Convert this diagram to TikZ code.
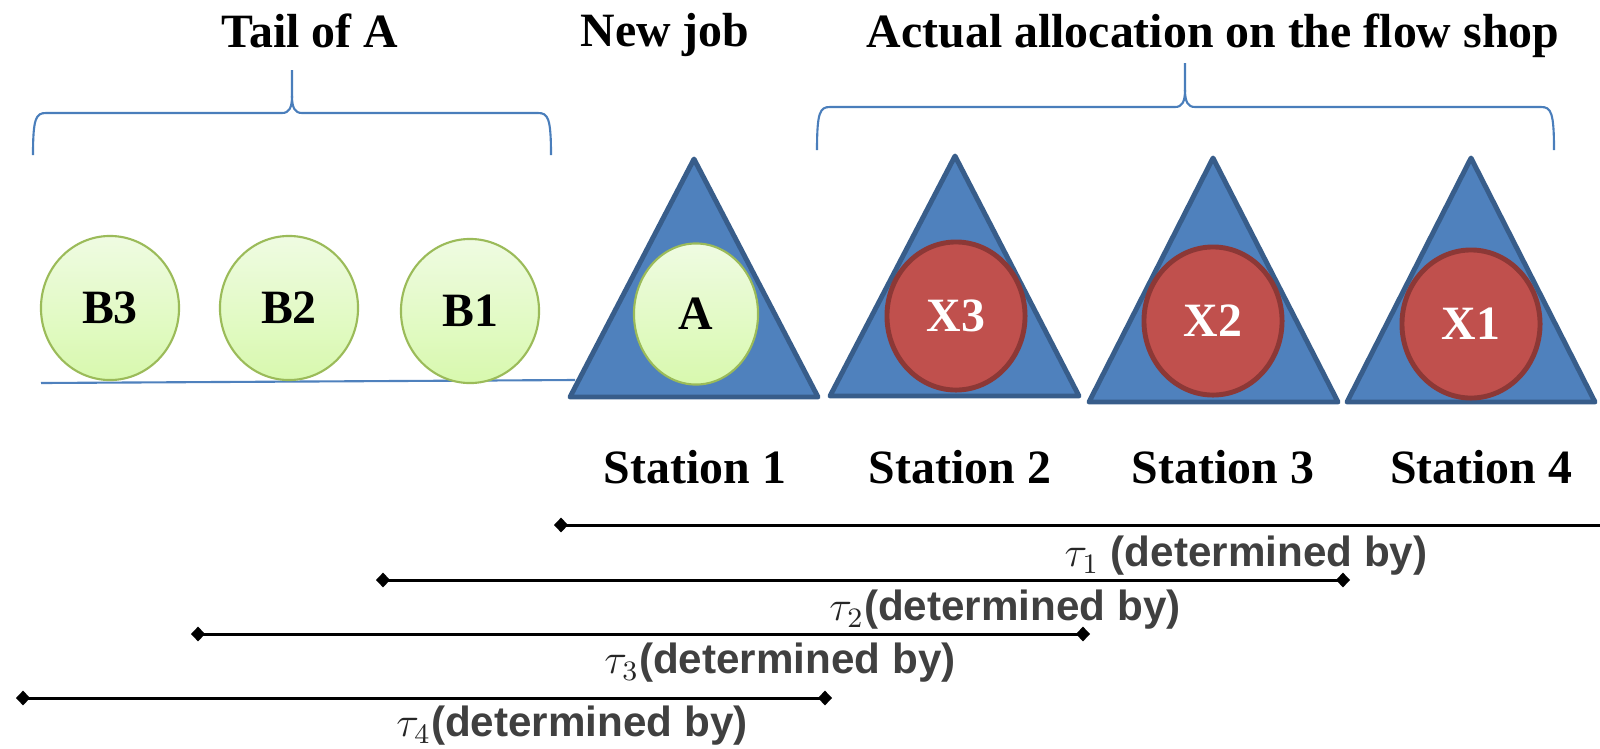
\documentclass[tikz,border=0pt]{standalone}
\usepackage{fontspec}
\setmainfont{Liberation Serif}
\newfontfamily\tausans{Liberation Sans}
\usepackage{xcolor}
\usepackage{tikz}
\usetikzlibrary{shapes.geometric,arrows.meta}

\definecolor{stationfill}{HTML}{4F81BD}
\definecolor{stationline}{HTML}{385D8A}
\definecolor{busyfill}{HTML}{C0504D}
\definecolor{busyline}{HTML}{8C3836}
\definecolor{jobline}{HTML}{9BBB59}
\definecolor{jobtop}{HTML}{EFFBE2}
\definecolor{jobbottom}{HTML}{D8F9AE}
\definecolor{bracecol}{HTML}{4A7EBB}
\definecolor{taugrey}{HTML}{404040}

\newcommand{\tausym}[1]{\textcolor{black!85}{$\tau_{#1}$}}

\tikzset{
  heading/.style={anchor=base, font=\fontsize{13.6}{16}\selectfont\bfseries},
  jobcircle/.style={ellipse, draw=jobline, line width=0.6pt, top color=jobtop, bottom color=jobbottom,
    inner sep=0pt, minimum width=1.38cm, minimum height=1.44cm, font=\fontsize{13.6}{16}\selectfont\bfseries},
  busycircle/.style={ellipse, draw=busyline, fill=busyfill, line width=1.4pt, text=white,
    inner sep=0pt, minimum width=1.38cm, minimum height=1.48cm, font=\fontsize{13.6}{16}\selectfont\bfseries},
  stationtri/.style={draw=stationline, fill=stationfill, line width=1.4pt, line join=round},
  brace/.style={draw=bracecol, line width=0.6pt},
  tauline/.style={draw=black, line width=0.85pt, {Diamond[length=4pt,width=4.2pt]}-{Diamond[length=4pt,width=4.2pt]}},
  taulabel/.style={text=taugrey, font=\tausans\fontsize{12}{14}\selectfont\bfseries}
}

\begin{document}
\begin{tikzpicture}[x=0.01cm, y=-0.01cm]

\useasboundingbox (0,0) rectangle (1600,748);

% Headings
\node[heading] (tail) at (310,47) {Tail of A};
\node[heading] (newjob) at (665,46) {New job};
\node[heading] (actual) at (1213,47) {Actual allocation on the flow shop};

% Braces
\draw[brace] (33,155) .. controls (33,118) and (36,113) .. (46,113) -- (282,113)
  .. controls (289,113) and (292,108) .. (292,96) -- (292,70);
\draw[brace] (551,155) .. controls (551,118) and (548,113) .. (538,113) -- (302,113)
  .. controls (295,113) and (292,108) .. (292,96);
\draw[brace] (817,150) .. controls (817,112) and (820,107) .. (830,107) -- (1175,107)
  .. controls (1182,107) and (1185,102) .. (1185,90) -- (1185,63);
\draw[brace] (1554,150) .. controls (1554,112) and (1551,107) .. (1541,107) -- (1195,107)
  .. controls (1188,107) and (1185,102) .. (1185,90);

% Queue line
\draw[draw=stationfill, line width=0.6pt] (41,383) -- (575,380);

% Tail of A
\node[jobcircle] (b3) at (110,308) {B3};
\node[jobcircle] (b2) at (289,308) {B2};
\node[jobcircle] (b1) at (470,311) {B1};

% Station 1
\draw[stationtri] (570,397) -- (694,159) -- (818,397) -- cycle;
\node[jobcircle, minimum width=1.24cm, minimum height=1.41cm] (a) at (696,314) {A};
\node[heading] (st1) at (695,483) {Station 1};

% Station 2
\draw[stationtri] (830,396) -- (955,156) -- (1079,396) -- cycle;
\node[busycircle] (x3) at (956,316) {X3};
\node[heading] (st2) at (960,483) {Station 2};

% Station 3
\draw[stationtri] (1089,402) -- (1213,158) -- (1338,402) -- cycle;
\node[busycircle] (x2) at (1213,321) {X2};
\node[heading] (st3) at (1223,483) {Station 3};

% Station 4
\draw[stationtri] (1347,402) -- (1471,158) -- (1595,402) -- cycle;
\node[busycircle] (x1) at (1471,324) {X1};
\node[heading] (st4) at (1481,483) {Station 4};

% tau 1
\coordinate (t1l) at (554,525);
\coordinate (t1r) at (1600,525);
\draw[tauline, {Diamond[length=4pt,width=4.2pt]}-] (t1l) -- (t1r);
\node[taulabel] (t1) at (1246,556) {\tausym{1} (determined by)};

% tau 2
\coordinate (t2l) at (376,580);
\coordinate (t2r) at (1350,580);
\draw[tauline] (t2l) -- (t2r);
\node[taulabel] (t2) at (1005,610) {\tausym{2}(determined by)};

% tau 3
\coordinate (t3l) at (191,634);
\coordinate (t3r) at (1090,634);
\draw[tauline] (t3l) -- (t3r);
\node[taulabel] (t3) at (780,663) {\tausym{3}(determined by)};

% tau 4
\coordinate (t4l) at (16,698);
\coordinate (t4r) at (832,698);
\draw[tauline] (t4l) -- (t4r);
\node[taulabel] (t4) at (572,726) {\tausym{4}(determined by)};

\end{tikzpicture}
\end{document}
